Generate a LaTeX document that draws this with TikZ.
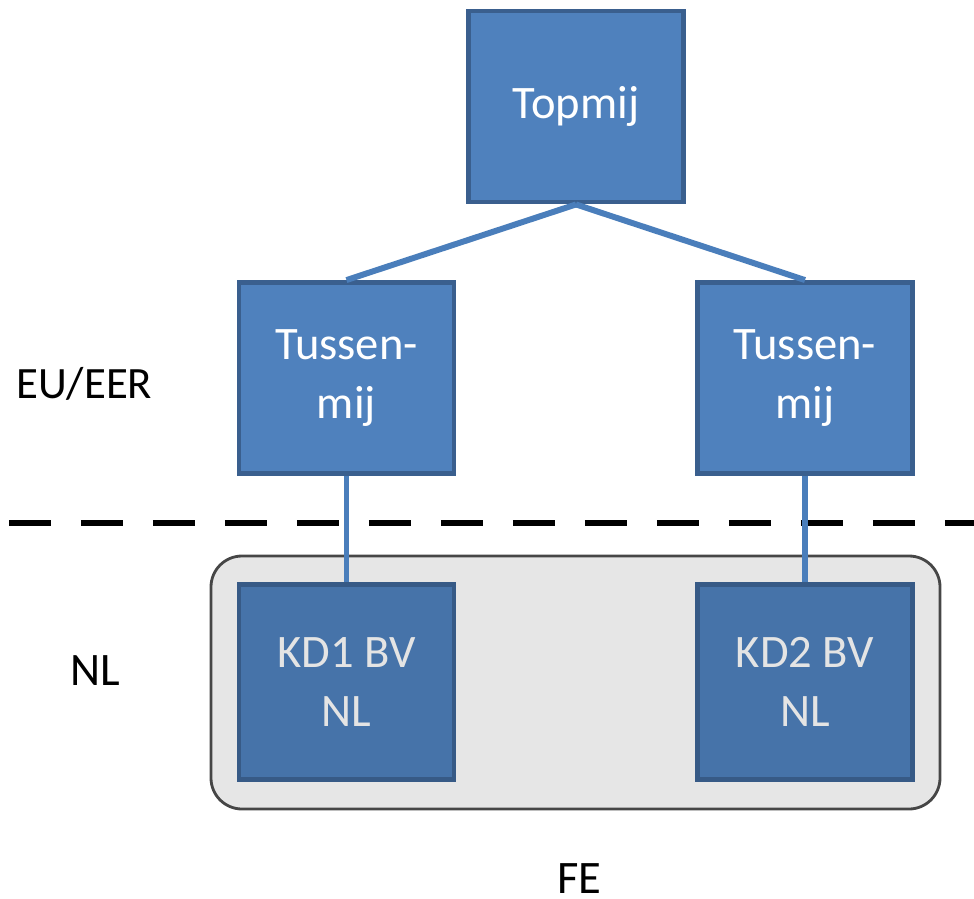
\documentclass[tikz,border=0pt]{standalone}
\usepackage{fontspec}
\setmainfont{Carlito}
\usepackage{xcolor}
\usepackage{tikz}
\usetikzlibrary{positioning}

\definecolor{boxfill}{HTML}{4F81BD}
\definecolor{boxline}{HTML}{3A5F8E}
\definecolor{kdfill}{HTML}{4673A9}
\definecolor{kdline}{HTML}{375A86}
\definecolor{kdtext}{HTML}{E4E4E4}
\definecolor{linkcol}{HTML}{4A7EBB}
\definecolor{fefill}{HTML}{E6E6E6}

\begin{document}
\begin{tikzpicture}
           [x=0.02cm, y=-0.02cm,
            mij/.style = {draw=boxline, fill=boxfill, line width=2.8pt, text=white,
                          minimum width=4.3cm, minimum height=3.82cm, align=center,
                          font=\fontsize{26.5}{34}\selectfont},
            kd/.style = {mij, draw=kdline, fill=kdfill, text=kdtext, minimum height=3.9cm},
            lbl/.style = {inner sep=0pt, font=\fontsize{26.5}{34}\selectfont},
            link/.style = {draw=linkcol, line width=3.4pt}]
            \useasboundingbox (0,0) rectangle (974,899);
            \draw[draw=gray!55!black, line width=1.6pt, fill=fefill, rounded corners=0.62cm]
                (211,556) rectangle (940,809);
            \draw[line width=3.4pt, dash pattern=on 0.84cm off 0.6cm] (9,523) -- (974,523);

            \node[mij] (top) at (576,106.5) {Topmij};
            \node[mij] (tm1) at (346.5,378) {Tussen-\\mij};
            \node[mij] (tm2) at (805,378) {Tussen-\\mij};
            \node[kd] (kd1) at (346.5,682) {KD1 BV\\NL};
            \node[kd] (kd2) at (805,682) {KD2 BV\\NL};

            \node[lbl, anchor=base west, font=\fontsize{25.5}{34}\selectfont] (eu) at (16,398) {EU/EER};
            \node[lbl, anchor=base] (nl) at (95.5,685) {NL};
            \node[lbl, anchor=base] (fe) at (579.5,893) {FE};

            \path[link] (top.south) edge (tm1.north);
            \path[link] (top.south) edge (tm2.north);
            \path[link] (tm1.south) edge (kd1.north);
            \path[link] (tm2.south) edge (kd2.north);
\end{tikzpicture}
\end{document}
